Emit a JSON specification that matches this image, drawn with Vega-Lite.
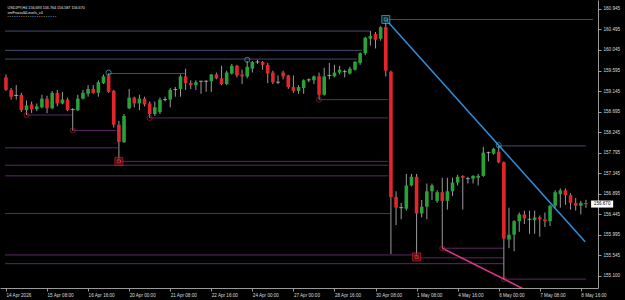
{
  "$schema": "https://vega.github.io/schema/vega-lite/v6.json",
  "width": 598,
  "height": 288,
  "autosize": "none",
  "padding": {"left": 0, "top": 0, "right": 27, "bottom": 12},
  "background": "#000000",
  "config": {"view": {"stroke": null}, "font": "Liberation Sans",
    "axis": {"labelOverlap": false, "grid": false, "domainColor": "#9a9a9a", "tickColor": "#9a9a9a", "tickSize": 3, "labelColor": "#dcdcdc", "labelFontSize": 4.6, "labelFlush": false, "labelBound": false, "title": null},
    "axisY": {"labelOverlap": false, "labelPadding": 2},
    "axisX": {"labelAlign": "left", "labelPadding": 1}},
  "datasets": {
    "candles": [
      {"i":0,"o":159.444,"h":159.508,"l":159.149,"c":159.170},
      {"i":1,"o":159.170,"h":159.212,"l":158.958,"c":159.022},
      {"i":2,"o":159.050,"h":159.275,"l":158.958,"c":159.050},
      {"i":3,"o":159.064,"h":159.106,"l":158.683,"c":158.726},
      {"i":4,"o":158.726,"h":158.937,"l":158.620,"c":158.831},
      {"i":5,"o":158.853,"h":158.916,"l":158.662,"c":158.747},
      {"i":6,"o":158.747,"h":158.874,"l":158.705,"c":158.810},
      {"i":7,"o":158.789,"h":159.064,"l":158.768,"c":158.979},
      {"i":8,"o":158.979,"h":159.043,"l":158.662,"c":158.768},
      {"i":9,"o":158.768,"h":159.149,"l":158.747,"c":159.106},
      {"i":10,"o":159.106,"h":159.170,"l":158.810,"c":158.874},
      {"i":11,"o":158.874,"h":159.127,"l":158.853,"c":158.958},
      {"i":12,"o":158.958,"h":159.001,"l":158.705,"c":158.726},
      {"i":13,"o":158.740,"h":158.768,"l":158.282,"c":158.740},
      {"i":14,"o":158.726,"h":159.064,"l":158.705,"c":158.979},
      {"i":15,"o":158.979,"h":159.170,"l":158.958,"c":159.106},
      {"i":16,"o":159.085,"h":159.275,"l":159.022,"c":159.191},
      {"i":17,"o":159.191,"h":159.275,"l":159.085,"c":159.106},
      {"i":18,"o":159.106,"h":159.381,"l":159.022,"c":159.339},
      {"i":19,"o":159.318,"h":159.508,"l":159.297,"c":159.466},
      {"i":20,"o":159.487,"h":159.529,"l":159.106,"c":159.127},
      {"i":21,"o":159.149,"h":159.170,"l":158.345,"c":158.409},
      {"i":22,"o":158.409,"h":158.493,"l":157.605,"c":158.028},
      {"i":23,"o":158.028,"h":158.641,"l":158.007,"c":158.599},
      {"i":24,"o":158.768,"h":159.191,"l":158.747,"c":159.001},
      {"i":25,"o":159.001,"h":159.022,"l":158.789,"c":158.874},
      {"i":26,"o":158.874,"h":159.064,"l":158.726,"c":158.979},
      {"i":27,"o":158.979,"h":159.022,"l":158.810,"c":158.853},
      {"i":28,"o":158.874,"h":158.916,"l":158.557,"c":158.641},
      {"i":29,"o":158.641,"h":158.916,"l":158.599,"c":158.789},
      {"i":30,"o":158.683,"h":159.001,"l":158.641,"c":158.958},
      {"i":31,"o":158.958,"h":159.022,"l":158.916,"c":158.958},
      {"i":32,"o":158.958,"h":159.212,"l":158.789,"c":159.170},
      {"i":33,"o":159.180,"h":159.233,"l":159.022,"c":159.180},
      {"i":34,"o":159.191,"h":159.508,"l":159.022,"c":159.466},
      {"i":35,"o":159.466,"h":159.635,"l":159.170,"c":159.318},
      {"i":36,"o":159.318,"h":159.381,"l":159.191,"c":159.275},
      {"i":37,"o":159.275,"h":159.381,"l":159.170,"c":159.339},
      {"i":38,"o":159.360,"h":159.370,"l":159.085,"c":159.360},
      {"i":39,"o":159.360,"h":159.381,"l":159.127,"c":159.360},
      {"i":40,"o":159.360,"h":159.520,"l":159.127,"c":159.508},
      {"i":41,"o":159.508,"h":159.550,"l":159.402,"c":159.423},
      {"i":42,"o":159.423,"h":159.698,"l":159.275,"c":159.297},
      {"i":43,"o":159.297,"h":159.592,"l":159.275,"c":159.550},
      {"i":44,"o":159.529,"h":159.740,"l":159.508,"c":159.698},
      {"i":45,"o":159.698,"h":159.719,"l":159.444,"c":159.487},
      {"i":46,"o":159.508,"h":159.614,"l":159.297,"c":159.466},
      {"i":47,"o":159.466,"h":159.804,"l":159.423,"c":159.677},
      {"i":48,"o":159.635,"h":159.804,"l":159.550,"c":159.783},
      {"i":49,"o":159.783,"h":159.825,"l":159.740,"c":159.783},
      {"i":50,"o":159.783,"h":159.804,"l":159.614,"c":159.719},
      {"i":51,"o":159.719,"h":159.762,"l":159.318,"c":159.529},
      {"i":52,"o":159.550,"h":159.592,"l":159.297,"c":159.339},
      {"i":53,"o":159.339,"h":159.487,"l":159.297,"c":159.339},
      {"i":54,"o":159.550,"h":159.592,"l":159.402,"c":159.466},
      {"i":55,"o":159.487,"h":159.500,"l":159.191,"c":159.233},
      {"i":56,"o":159.233,"h":159.487,"l":159.106,"c":159.149},
      {"i":57,"o":159.149,"h":159.275,"l":159.085,"c":159.233},
      {"i":58,"o":159.212,"h":159.402,"l":159.085,"c":159.381},
      {"i":59,"o":159.390,"h":159.423,"l":159.339,"c":159.390},
      {"i":60,"o":159.381,"h":159.487,"l":159.297,"c":159.466},
      {"i":61,"o":159.466,"h":159.550,"l":158.958,"c":159.064},
      {"i":62,"o":159.064,"h":159.656,"l":159.043,"c":159.466},
      {"i":63,"o":159.487,"h":159.762,"l":159.402,"c":159.487},
      {"i":64,"o":159.466,"h":159.719,"l":159.444,"c":159.550},
      {"i":65,"o":159.550,"h":159.698,"l":159.508,"c":159.614},
      {"i":66,"o":159.571,"h":159.614,"l":159.444,"c":159.571},
      {"i":67,"o":159.529,"h":159.677,"l":159.508,"c":159.635},
      {"i":68,"o":159.614,"h":159.804,"l":159.592,"c":159.783},
      {"i":69,"o":159.762,"h":159.994,"l":159.719,"c":159.973},
      {"i":70,"o":159.973,"h":160.332,"l":159.931,"c":160.311},
      {"i":71,"o":160.290,"h":160.459,"l":160.142,"c":160.354},
      {"i":72,"o":160.396,"h":160.438,"l":160.079,"c":160.269},
      {"i":73,"o":160.290,"h":160.565,"l":160.248,"c":160.544},
      {"i":74,"o":160.544,"h":160.671,"l":159.466,"c":159.592},
      {"i":75,"o":159.571,"h":159.592,"l":155.576,"c":156.823},
      {"i":76,"o":156.823,"h":156.950,"l":156.210,"c":156.591},
      {"i":77,"o":156.591,"h":156.696,"l":156.337,"c":156.591},
      {"i":78,"o":156.569,"h":157.330,"l":156.527,"c":157.077},
      {"i":79,"o":157.077,"h":157.330,"l":157.056,"c":157.267},
      {"i":80,"o":157.267,"h":157.330,"l":155.512,"c":156.464},
      {"i":81,"o":156.464,"h":156.760,"l":156.379,"c":156.612},
      {"i":82,"o":156.612,"h":157.119,"l":156.337,"c":156.950},
      {"i":83,"o":156.950,"h":157.119,"l":156.760,"c":157.077},
      {"i":84,"o":156.739,"h":156.971,"l":156.696,"c":156.929},
      {"i":85,"o":156.929,"h":157.246,"l":155.703,"c":156.739},
      {"i":86,"o":156.739,"h":157.246,"l":156.548,"c":156.950},
      {"i":87,"o":156.950,"h":157.246,"l":156.844,"c":157.140},
      {"i":88,"o":157.140,"h":157.309,"l":157.077,"c":157.267},
      {"i":89,"o":157.288,"h":157.300,"l":156.548,"c":157.246},
      {"i":90,"o":157.225,"h":157.267,"l":157.119,"c":157.225},
      {"i":91,"o":157.225,"h":157.300,"l":157.119,"c":157.288},
      {"i":92,"o":157.246,"h":157.330,"l":157.077,"c":157.288},
      {"i":93,"o":157.288,"h":157.922,"l":157.267,"c":157.796},
      {"i":94,"o":157.796,"h":157.817,"l":157.605,"c":157.796},
      {"i":95,"o":157.774,"h":157.901,"l":157.753,"c":157.880},
      {"i":96,"o":157.817,"h":157.944,"l":157.563,"c":157.584},
      {"i":97,"o":157.584,"h":157.605,"l":155.026,"c":155.914},
      {"i":98,"o":155.893,"h":156.591,"l":155.703,"c":155.999},
      {"i":99,"o":155.999,"h":156.316,"l":155.639,"c":156.295},
      {"i":100,"o":156.295,"h":156.485,"l":156.062,"c":156.443},
      {"i":101,"o":156.443,"h":156.527,"l":156.231,"c":156.358},
      {"i":102,"o":156.337,"h":156.527,"l":156.020,"c":156.337},
      {"i":103,"o":156.316,"h":156.527,"l":156.020,"c":156.379},
      {"i":104,"o":156.379,"h":156.421,"l":155.956,"c":156.337},
      {"i":105,"o":156.337,"h":156.485,"l":156.168,"c":156.295},
      {"i":106,"o":156.295,"h":156.654,"l":156.189,"c":156.633},
      {"i":107,"o":156.633,"h":156.971,"l":156.591,"c":156.929},
      {"i":108,"o":156.887,"h":157.013,"l":156.591,"c":156.971},
      {"i":109,"o":156.971,"h":157.013,"l":156.654,"c":156.865},
      {"i":110,"o":156.865,"h":156.908,"l":156.548,"c":156.696},
      {"i":111,"o":156.696,"h":156.802,"l":156.527,"c":156.633},
      {"i":112,"o":156.633,"h":156.739,"l":156.443,"c":156.696},
      {"i":113,"o":156.693,"h":156.764,"l":156.587,"c":156.670}
    ],
    "levels": [
      {"a":-0.19,"b":71,"p":160.459,"k":"u"},
      {"a":-0.19,"b":69.3,"p":160.036,"k":"u"},
      {"a":-0.19,"b":68.4,"p":159.846,"k":"u"},
      {"a":20,"b":34.9,"p":159.529,"k":"u"},
      {"a":74,"b":114.37,"p":160.713,"k":"u"},
      {"a":96,"b":113,"p":157.944,"k":"u"},
      {"a":4,"b":12.8,"p":158.620,"k":"d"},
      {"a":13,"b":21.5,"p":158.282,"k":"d"},
      {"a":28,"b":74.5,"p":158.557,"k":"d"},
      {"a":61,"b":74.5,"p":158.958,"k":"d"},
      {"a":-0.19,"b":21.8,"p":157.901,"k":"d"},
      {"a":22,"b":74.5,"p":157.605,"k":"d"},
      {"a":-0.19,"b":74.5,"p":157.521,"k":"d"},
      {"a":-0.19,"b":74.5,"p":157.288,"k":"d"},
      {"a":-0.19,"b":75,"p":156.464,"k":"d"},
      {"a":85,"b":97,"p":155.703,"k":"d"},
      {"a":-0.19,"b":80,"p":155.555,"k":"d"},
      {"a":80,"b":97,"p":155.491,"k":"d"},
      {"a":-0.19,"b":97,"p":155.364,"k":"d"},
      {"a":97,"b":113,"p":155.026,"k":"d"}
    ],
    "trend": [
      {"i":74,"p":160.713,"g":"b"},
      {"i":112.84,"p":155.844,"g":"b"},
      {"i":85,"p":155.703,"g":"p"},
      {"i":103,"p":154.688,"g":"p"}
    ],
    "markers": [
      {"i":20,"p":159.55,"k":"cc"},
      {"i":47,"p":159.83,"k":"cc"},
      {"i":96,"p":157.96,"k":"cc"},
      {"i":4,"p":158.62,"k":"rc"},
      {"i":13,"p":158.282,"k":"rc"},
      {"i":28,"p":158.557,"k":"rc"},
      {"i":61,"p":158.958,"k":"rc"},
      {"i":85,"p":155.703,"k":"rc"},
      {"i":97,"p":155.026,"k":"rc"}
    ],
    "squares": [
      {"i":74,"p":160.713,"k":"cs"},
      {"i":22,"p":157.605,"k":"rs"},
      {"i":80,"p":155.512,"k":"rs"}
    ],
    "last": [{"p":156.670,"t":"156.670"}]
  },
  "layer": [
    {
      "data": {"name": "levels"},
      "mark": {"type": "rule", "strokeWidth": 1},
      "encoding": {
        "x": {"field": "a", "type": "quantitative", "scale": {"domain": [-0.19, 114.37], "nice": false, "zero": false}, "title": null,
          "axis": {"values": [0,8,16,24,32,40,48,56,64,72,80,88,96,104,112], "tickCount": 40,
            "labelExpr": "['14 Apr 2026','15 Apr 08:00','16 Apr 16:00','20 Apr 00:00','21 Apr 08:00','22 Apr 16:00','24 Apr 00:00','27 Apr 00:00','28 Apr 16:00','30 Apr 08:00','1 May 08:00','4 May 16:00','6 May 00:00','7 May 08:00','8 May 16:00'][round(datum.value/8)]",
            "labelAlign": "left", "labelPadding": 1, "labelOverlap": false}},
        "x2": {"field": "b"},
        "y": {"field": "p", "type": "quantitative", "scale": {"domain": [154.941, 161.03], "nice": false, "zero": false}, "title": null,
          "axis": {"orient": "right", "tickCount": 40, "values": [160.945,160.495,160.045,159.595,159.145,158.695,158.245,157.795,157.345,156.895,156.445,155.995,155.545,155.1],
            "labelExpr": "datum.value == 155.1 ? '155.100' : format(datum.value, '.3f')",
            "labelPadding": 2, "labelOverlap": false}},
        "color": {"condition": {"test": "datum.k == 'u'", "value": "#464a6c"}, "value": "#5a2a66"}
      }
    },
    {
      "data": {"name": "trend"},
      "mark": {"type": "line", "strokeWidth": 1.5, "clip": true},
      "encoding": {
        "x": {"field": "i", "type": "quantitative", "scale": {"domain": [-0.19, 114.37], "nice": false, "zero": false}, "title": null},
        "y": {"field": "p", "type": "quantitative", "scale": {"domain": [154.941, 161.03], "nice": false, "zero": false}, "title": null},
        "color": {"field": "g", "type": "nominal", "scale": {"domain": ["b", "p"], "range": ["#2f8fdc", "#e0358a"]}, "legend": null}
      }
    },
    {
      "data": {"name": "candles"},
      "mark": {"type": "rule", "strokeWidth": 1, "color": "#9b9b9b"},
      "encoding": {
        "x": {"field": "i", "type": "quantitative", "scale": {"domain": [-0.19, 114.37], "nice": false, "zero": false}, "title": null},
        "y": {"field": "l", "type": "quantitative", "scale": {"domain": [154.941, 161.03], "nice": false, "zero": false}, "title": null},
        "y2": {"field": "h"}
      }
    },
    {
      "data": {"name": "candles"},
      "mark": {"type": "bar", "size": 3.6},
      "encoding": {
        "x": {"field": "i", "type": "quantitative", "scale": {"domain": [-0.19, 114.37], "nice": false, "zero": false}, "title": null},
        "y": {"field": "o", "type": "quantitative", "scale": {"domain": [154.941, 161.03], "nice": false, "zero": false}, "title": null},
        "y2": {"field": "c"},
        "color": {"condition": {"test": "datum.c >= datum.o", "value": "#26a236"}, "value": "#e3262b"}
      }
    },
    {
      "data": {"name": "candles"},
      "transform": [{"filter": "datum.o == datum.c"}],
      "mark": {"type": "tick", "orient": "horizontal", "size": 4, "thickness": 1, "color": "#c8c8c8"},
      "encoding": {
        "x": {"field": "i", "type": "quantitative", "scale": {"domain": [-0.19, 114.37], "nice": false, "zero": false}, "title": null},
        "y": {"field": "o", "type": "quantitative", "scale": {"domain": [154.941, 161.03], "nice": false, "zero": false}, "title": null}
      }
    },
    {
      "data": {"name": "markers"},
      "mark": {"type": "point", "shape": "circle", "filled": false, "size": 26, "strokeWidth": 1},
      "encoding": {
        "x": {"field": "i", "type": "quantitative", "scale": {"domain": [-0.19, 114.37], "nice": false, "zero": false}, "title": null},
        "y": {"field": "p", "type": "quantitative", "scale": {"domain": [154.941, 161.03], "nice": false, "zero": false}, "title": null},
        "color": {"condition": {"test": "datum.k == 'cc'", "value": "#3ab7d6"}, "value": "#b01c24"}
      }
    },
    {
      "data": {"name": "squares"},
      "mark": {"type": "point", "shape": "square", "filled": true, "size": 64, "strokeWidth": 1},
      "encoding": {
        "x": {"field": "i", "type": "quantitative", "scale": {"domain": [-0.19, 114.37], "nice": false, "zero": false}, "title": null},
        "y": {"field": "p", "type": "quantitative", "scale": {"domain": [154.941, 161.03], "nice": false, "zero": false}, "title": null},
        "fill": {"condition": {"test": "datum.k == 'cs'", "value": "#0d3440"}, "value": "#6e0d12"},
        "stroke": {"condition": {"test": "datum.k == 'cs'", "value": "#45c0e0"}, "value": "#d8262b"}
      }
    },
    {
      "data": {"name": "squares"},
      "mark": {"type": "point", "shape": "square", "filled": false, "size": 10, "strokeWidth": 1},
      "encoding": {
        "x": {"field": "i", "type": "quantitative", "scale": {"domain": [-0.19, 114.37], "nice": false, "zero": false}, "title": null},
        "y": {"field": "p", "type": "quantitative", "scale": {"domain": [154.941, 161.03], "nice": false, "zero": false}, "title": null},
        "color": {"condition": {"test": "datum.k == 'cs'", "value": "#45c0e0"}, "value": "#e04048"}
      }
    },
    {
      "data": {"name": "last"},
      "mark": {"type": "bar", "orient": "horizontal", "size": 7, "color": "#ffffff", "clip": false},
      "encoding": {
        "x": {"datum": 114.0, "type": "quantitative", "scale": {"domain": [-0.19, 114.37], "nice": false, "zero": false}, "title": null},
        "x2": {"datum": 118.3},
        "y": {"field": "p", "type": "quantitative", "scale": {"domain": [154.941, 161.03], "nice": false, "zero": false}, "title": null}
      }
    },
    {
      "data": {"name": "last"},
      "mark": {"type": "text", "fontSize": 4.6, "color": "#000000", "align": "center", "baseline": "middle", "clip": false},
      "encoding": {
        "x": {"datum": 116.15, "type": "quantitative", "scale": {"domain": [-0.19, 114.37], "nice": false, "zero": false}, "title": null},
        "y": {"field": "p", "type": "quantitative", "scale": {"domain": [154.941, 161.03], "nice": false, "zero": false}, "title": null},
        "text": {"field": "t"}
      }
    },
    {
      "data": {"values": [{"t": "USDJPY,H4  156.693 156.764 156.587 156.670"}]},
      "mark": {"type": "text", "fontSize": 3.7, "color": "#e8e8e8", "align": "left", "baseline": "middle"},
      "encoding": {
        "x": {"datum": 0.3, "type": "quantitative", "scale": {"domain": [-0.19, 114.37], "nice": false, "zero": false}, "title": null},
        "y": {"datum": 160.965, "type": "quantitative", "scale": {"domain": [154.941, 161.03], "nice": false, "zero": false}, "title": null},
        "text": {"field": "t"}
      }
    },
    {
      "data": {"values": [{"t": "smFractal&Levels_v4"}]},
      "mark": {"type": "text", "fontSize": 3.7, "color": "#e8e8e8", "align": "left", "baseline": "middle"},
      "encoding": {
        "x": {"datum": 0.3, "type": "quantitative", "scale": {"domain": [-0.19, 114.37], "nice": false, "zero": false}, "title": null},
        "y": {"datum": 160.865, "type": "quantitative", "scale": {"domain": [154.941, 161.03], "nice": false, "zero": false}, "title": null},
        "text": {"field": "t"}
      }
    },
    {
      "data": {"values": [{"t": "• • • • • • • • • • • • • • • • • • • • • •"}]},
      "mark": {"type": "text", "fontSize": 3.6, "color": "#9a9a9a", "align": "left", "baseline": "middle"},
      "encoding": {
        "x": {"datum": 0.3, "type": "quantitative", "scale": {"domain": [-0.19, 114.37], "nice": false, "zero": false}, "title": null},
        "y": {"datum": 160.775, "type": "quantitative", "scale": {"domain": [154.941, 161.03], "nice": false, "zero": false}, "title": null},
        "text": {"field": "t"}
      }
    }
  ]
}
